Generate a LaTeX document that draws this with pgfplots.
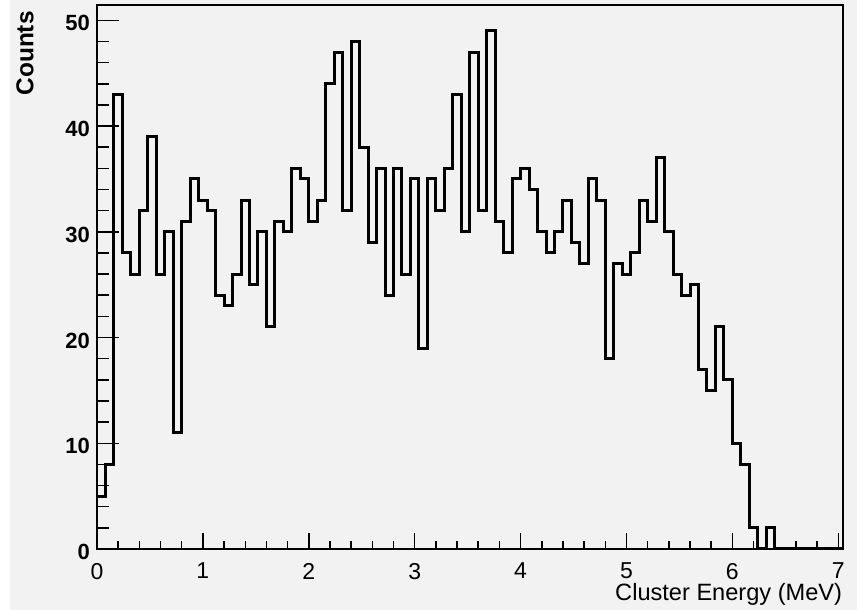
\documentclass[border=0pt]{standalone}
\usepackage{fontspec}
\setmainfont{Liberation Sans}
\usepackage{pgfplots}
\pgfplotsset{compat=1.18}
\usepackage{pgfplotstable}
\definecolor{bgc}{RGB}{242,242,242}
\pgfplotstableread{
x y
0.00 5
0.08 8
0.16 43
0.24 28
0.32 26
0.40 32
0.48 39
0.56 26
0.64 30
0.72 11
0.80 31
0.88 35
0.96 33
1.04 32
1.12 24
1.20 23
1.28 26
1.36 33
1.44 25
1.52 30
1.60 21
1.68 31
1.76 30
1.84 36
1.92 35
2.00 31
2.08 33
2.16 44
2.24 47
2.32 32
2.40 48
2.48 38
2.56 29
2.64 36
2.72 24
2.80 36
2.88 26
2.96 35
3.04 19
3.12 35
3.20 32
3.28 36
3.36 43
3.44 30
3.52 47
3.60 32
3.68 49
3.76 31
3.84 28
3.92 35
4.00 36
4.08 34
4.16 30
4.24 28
4.32 30
4.40 33
4.48 29
4.56 27
4.64 35
4.72 33
4.80 18
4.88 27
4.96 26
5.04 28
5.12 33
5.20 31
5.28 37
5.36 30
5.44 26
5.52 24
5.60 25
5.68 17
5.76 15
5.84 21
5.92 16
6.00 10
6.08 8
6.16 2
6.24 0
6.32 2
6.40 0
7.04 0
}\histdata
\begin{document}
\begin{tikzpicture}
\fill[white] (-48.5pt,-30.5pt) rectangle (380pt,274.5pt);
\fill[bgc] (-43.5pt,-30.5pt) rectangle (380pt,274.5pt);
\useasboundingbox (-48.5pt,-30.5pt) rectangle (380pt,274.5pt);
\begin{axis}[
  at={(0pt,0pt)}, anchor=south west,
  scale only axis, width=372.75pt, height=272pt,
  xmin=0, xmax=7.04, ymin=0, ymax=51.45,
  xtick={0,1,...,7}, ytick={0,10,...,50},
  minor x tick num=4, minor y tick num=4,
  tick align=inside, xtick pos=bottom, ytick pos=left,
  axis line style={line width=1pt, black},
  tick style={black, line width=0.75pt},
  xtick style={/pgfplots/major tick length=8pt, /pgfplots/minor tick length=3.8pt},
  ytick style={/pgfplots/major tick length=10.8pt, /pgfplots/minor tick length=5.8pt},
  /pgf/number format/assume math mode=true,
  xticklabel style={font=\fontsize{11.5}{14}\selectfont, yshift=-3.5pt},
  yticklabel style={font=\fontsize{11}{14}\selectfont\bfseries, yshift=-1.5pt},
  xlabel={Cluster Energy (MeV)},
  xlabel style={at={(axis description cs:1,0)}, anchor=base east, yshift=-26pt, inner sep=0pt, font=\fontsize{11.8}{14}\selectfont},
  ylabel={Counts},
  ylabel style={at={(axis description cs:-0.0966,0.989)}, anchor=east, inner sep=0pt, font=\fontsize{12.2}{14}\selectfont\bfseries},
]
\addplot[const plot mark left, black, line width=1.5pt, mark=none, line join=miter] table[x=x, y=y] {\histdata};
\end{axis}
\end{tikzpicture}
\end{document}
